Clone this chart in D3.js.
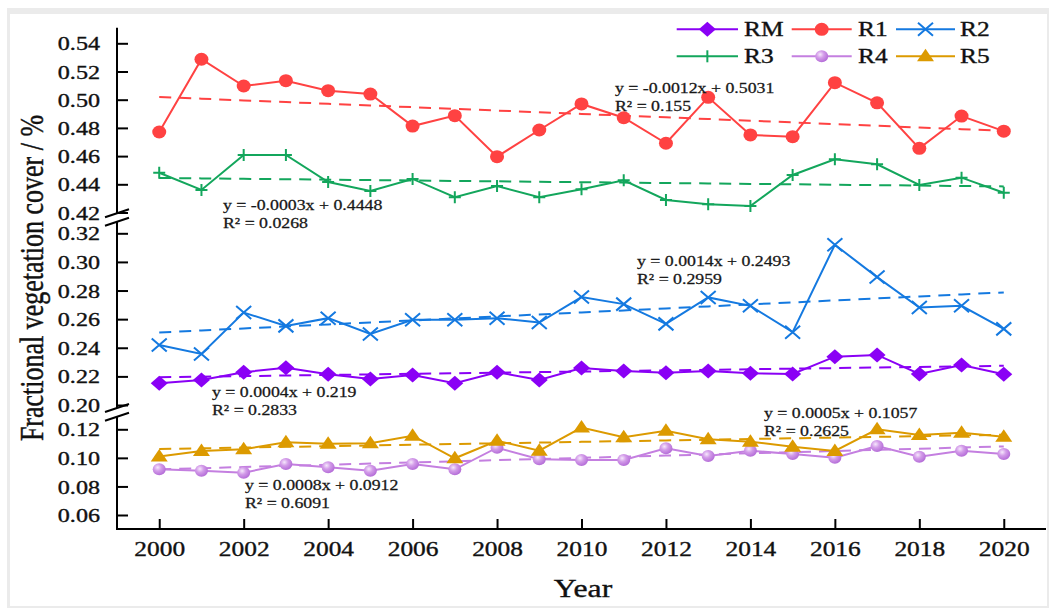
<!DOCTYPE html>
<html>
<head>
<meta charset="utf-8">
<script src="https://cdn.jsdelivr.net/npm/d3@7"></script>
<style>
  html, body { margin: 0; padding: 0; background: #fff; }
  svg { display: block; }
  svg text { stroke: currentColor; stroke-width: 0.35px; }
</style>
</head>
<body>
<svg id="chart" width="1051" height="608" style="color:#111"></svg>
<script>
// ---- data ----
const years = [2000, 2001, 2002, 2003, 2004, 2005, 2006, 2007, 2008, 2009, 2010,
               2011, 2012, 2013, 2014, 2015, 2016, 2017, 2018, 2019, 2020];
const seriesNames = ["RM", "R1", "R2", "R3", "R4", "R5"];

const valuesRM = [0.2152, 0.2175, 0.2229, 0.2261, 0.2215, 0.2182, 0.2210, 0.2152, 0.2229, 0.2175, 0.2259,
                  0.2238, 0.2226, 0.2238, 0.2222, 0.2217, 0.2338, 0.2350, 0.2217, 0.2280, 0.2215];
const valuesR1 = [0.4771, 0.5287, 0.5097, 0.5135, 0.5064, 0.5040, 0.4813, 0.4887, 0.4596, 0.4785, 0.4970,
                  0.4872, 0.4691, 0.5017, 0.4750, 0.4738, 0.5121, 0.4978, 0.4655, 0.4884, 0.4777];
const valuesR2 = [0.2420, 0.2357, 0.2646, 0.2553, 0.2607, 0.2497, 0.2595, 0.2595, 0.2607, 0.2576, 0.2754,
                  0.2705, 0.2567, 0.2752, 0.2693, 0.2509, 0.3120, 0.2894, 0.2681, 0.2693, 0.2532];
const valuesR3 = [0.4482, 0.4360, 0.4608, 0.4608, 0.4416, 0.4352, 0.4438, 0.4308, 0.4388, 0.4308, 0.4365,
                  0.4428, 0.4289, 0.4258, 0.4246, 0.4466, 0.4577, 0.4542, 0.4395, 0.4447, 0.4340];
const valuesR4 = [0.0920, 0.0910, 0.0896, 0.0957, 0.0934, 0.0910, 0.0957, 0.0920, 0.1071, 0.0990, 0.0985,
                  0.0985, 0.1067, 0.1013, 0.1050, 0.1027, 0.1001, 0.1083, 0.1008, 0.1050, 0.1027];
const valuesR5 = [0.1010, 0.1048, 0.1060, 0.1109, 0.1099, 0.1102, 0.1155, 0.0997, 0.1120, 0.1050, 0.1212,
                  0.1144, 0.1190, 0.1130, 0.1113, 0.1078, 0.1048, 0.1200, 0.1160, 0.1176, 0.1148];

// linear trends: y = slope * i + intercept, i = 1 for 2000
const trendSlopes     = [0.0004, -0.0012, 0.0014, -0.0003, 0.0008, 0.0005];
const trendIntercepts = [0.219, 0.5031, 0.2493, 0.4448, 0.0912, 0.1057];
const trendR2         = ["0.2833", "0.155", "0.2959", "0.0268", "0.6091", "0.2625"];

const yTicksTop    = [0.42, 0.44, 0.46, 0.48, 0.50, 0.52, 0.54];
const yTicksMiddle = [0.20, 0.22, 0.24, 0.26, 0.28, 0.30, 0.32];
const yTicksBottom = [0.06, 0.08, 0.10, 0.12];
const xTickYears   = [2000, 2002, 2004, 2006, 2008, 2010, 2012, 2014, 2016, 2018, 2020];

// ---- styling ----
const FONT = "'Liberation Serif', 'Times New Roman', serif";
const SX = 1.27;   // horizontal stretch of lettering
const colors = { RM: "#8a00f5", R1: "#ff4242", R2: "#1479e0", R3: "#13a65c", R4: "#c47fe0", R5: "#dc9a00" };
const seriesValues = { RM: valuesRM, R1: valuesR1, R2: valuesR2, R3: valuesR3, R4: valuesR4, R5: valuesR5 };

const svg = d3.select("#chart");

// page frame
svg.append("rect").attr("x", 7).attr("y", 8).attr("width", 1042).attr("height", 600).attr("fill", "#ebebeb");
svg.append("rect").attr("x", 10).attr("y", 14).attr("width", 1037).attr("height", 592).attr("fill", "#fff");

const defs = svg.append("defs");
const grad = defs.append("radialGradient").attr("id", "sphere").attr("cx", "38%").attr("cy", "35%").attr("r", "65%");
grad.append("stop").attr("offset", "0%").attr("stop-color", "#f6e8fc");
grad.append("stop").attr("offset", "45%").attr("stop-color", "#d39ce9");
grad.append("stop").attr("offset", "100%").attr("stop-color", "#b56ed8");

// ---- scales ----
const axisX = 117, axisBottomY = 529;
const x = d3.scaleLinear().domain([1999, 2021]).range([axisX, 1046]);

const yTop    = d3.scaleLinear().domain([0.42, 0.54]).range([212.5, 43.3]);
const yMiddle = d3.scaleLinear().domain([0.20, 0.32]).range([405, 233.3]);
const yBottom = d3.scaleLinear().domain([0.06, 0.12]).range([515, 429.3]);

const seriesScale = { RM: yMiddle, R1: yTop, R2: yMiddle, R3: yTop, R4: yBottom, R5: yBottom };

// ---- y axis: three segments with break marks ----
const segments = [
  { scale: yTop, ticks: yTicksTop, y0: 27.7, y1: 213.3 },
  { scale: yMiddle, ticks: yTicksMiddle, y0: 221.7, y1: 408 },
  { scale: yBottom, ticks: yTicksBottom, y0: 416.7, y1: axisBottomY }
];

segments.forEach(seg => {
  const g = svg.append("g").attr("transform", `translate(${axisX},0)`);
  g.call(d3.axisLeft(seg.scale).tickValues(seg.ticks).tickSize(-11).tickPadding(0)
    .tickFormat(d3.format(".2f")));
  g.select(".domain").remove();
  g.selectAll(".tick line").attr("stroke", "#000").attr("stroke-width", 2);
  g.selectAll(".tick text")
    .attr("x", 0).attr("dy", null).attr("y", 6.6)
    .attr("text-anchor", "end")
    .attr("transform", `translate(-17,0) scale(${SX},1)`)
    .attr("font-family", FONT).attr("font-size", 19).attr("fill", "#111");
  svg.append("line").attr("x1", axisX).attr("x2", axisX).attr("y1", seg.y0).attr("y2", seg.y1)
    .attr("stroke", "#000").attr("stroke-width", 2);
});

[213.3, 221.7, 408, 416.7].forEach(c => {
  svg.append("line").attr("x1", 105).attr("y1", c + 4).attr("x2", 129).attr("y2", c - 4)
    .attr("stroke", "#000").attr("stroke-width", 2);
});

// ---- x axis ----
const gx = svg.append("g").attr("transform", `translate(0,${axisBottomY})`);
gx.call(d3.axisBottom(x).tickValues(xTickYears).tickSize(-10).tickPadding(0).tickFormat(d3.format("d")));
gx.select(".domain").remove();
gx.selectAll(".tick line").attr("stroke", "#000").attr("stroke-width", 2);
gx.selectAll(".tick text")
  .attr("y", 27).attr("dy", null)
  .attr("text-anchor", "middle")
  .attr("transform", `scale(${SX},1)`)
  .attr("font-family", FONT).attr("font-size", 20).attr("fill", "#111");
svg.append("line").attr("x1", axisX - 1).attr("x2", 1046).attr("y1", axisBottomY).attr("y2", axisBottomY)
  .attr("stroke", "#000").attr("stroke-width", 2);

// axis titles
svg.append("text")
  .attr("transform", `translate(583,597) scale(${SX},1)`)
  .attr("text-anchor", "middle").attr("font-family", FONT).attr("font-size", 25).attr("fill", "#111")
  .text("Year");
svg.append("text")
  .attr("transform", `translate(43,278) rotate(-90) scale(1,${SX})`)
  .attr("text-anchor", "middle").attr("font-family", FONT).attr("font-size", 26).attr("fill", "#111")
  .text("Fractional vegetation cover / %");

// ---- markers ----
function drawMarker(g, name, cx, cy) {
  const c = colors[name];
  if (name === "RM") {
    g.append("path").attr("d", `M${cx},${cy - 7.5}L${cx + 8.5},${cy}L${cx},${cy + 7.5}L${cx - 8.5},${cy}Z`).attr("fill", c);
  } else if (name === "R1") {
    g.append("ellipse").attr("cx", cx).attr("cy", cy).attr("rx", 7).attr("ry", 6.5).attr("fill", c);
  } else if (name === "R2") {
    g.append("path").attr("d", `M${cx - 7.5},${cy - 6.5}L${cx + 7.5},${cy + 6.5}M${cx - 7.5},${cy + 6.5}L${cx + 7.5},${cy - 6.5}`)
      .attr("stroke", c).attr("stroke-width", 2).attr("fill", "none");
  } else if (name === "R3") {
    g.append("path").attr("d", `M${cx - 6},${cy}L${cx + 6},${cy}M${cx},${cy - 6}L${cx},${cy + 6}`)
      .attr("stroke", c).attr("stroke-width", 2).attr("fill", "none");
  } else if (name === "R4") {
    g.append("ellipse").attr("cx", cx).attr("cy", cy).attr("rx", 6.5).attr("ry", 6).attr("fill", "url(#sphere)");
  } else if (name === "R5") {
    g.append("path").attr("d", `M${cx},${cy - 7.5}L${cx + 8.5},${cy + 5}L${cx - 8.5},${cy + 5}Z`).attr("fill", c);
  }
}

// ---- trend lines ----
const trendLayer = svg.append("g");
seriesNames.forEach((name, k) => {
  const ys = seriesScale[name];
  const pts = years.map((yr, i) => [x(yr), ys(trendSlopes[k] * (i + 1) + trendIntercepts[k])]);
  trendLayer.append("path")
    .attr("d", d3.line()(pts))
    .attr("fill", "none").attr("stroke", colors[name]).attr("stroke-width", 2)
    .attr("stroke-dasharray", "12,8");
});

// ---- series lines and markers ----
const seriesLayer = svg.append("g");
seriesNames.forEach(name => {
  const ys = seriesScale[name];
  const vals = seriesValues[name];
  const line = d3.line().x((d, i) => x(years[i])).y(d => ys(d));
  seriesLayer.append("path").attr("d", line(vals))
    .attr("fill", "none").attr("stroke", colors[name]).attr("stroke-width", 2);
  const mg = seriesLayer.append("g");
  vals.forEach((v, i) => drawMarker(mg, name, x(years[i]), ys(v)));
});

// ---- equation labels ----
const eqPos = { RM: [212, 397], R1: [615, 93], R2: [637, 266], R3: [223, 210], R4: [245, 490], R5: [764, 418] };
seriesNames.forEach((name, k) => {
  const [ex, ey] = eqPos[name];
  const lines = [`y = ${trendSlopes[k]}x + ${trendIntercepts[k]}`, `R\u00B2 = ${trendR2[k]}`];
  lines.forEach((t, j) => {
    svg.append("text")
      .attr("transform", `translate(${ex},${ey + j * 17.5}) scale(${SX},1)`)
      .attr("font-family", FONT).attr("font-size", 14).attr("fill", "#1a1a1a")
      .style("stroke-width", "0.25px")
      .text(t);
  });
});

// ---- legend ----
const legendCols = [[676.7, 738, 744], [791.7, 851.7, 858], [896, 955, 960]];
const legendRows = [29.3, 56.3];
seriesNames.forEach((name, k) => {
  const [lx0, lx1, tx] = legendCols[k % 3];
  const ly = legendRows[Math.floor(k / 3)];
  const g = svg.append("g");
  g.append("line").attr("x1", lx0).attr("x2", lx1).attr("y1", ly).attr("y2", ly)
    .attr("stroke", colors[name]).attr("stroke-width", 2);
  const mx = (lx0 + lx1) / 2;
  if (name === "R3") {
    g.append("line").attr("x1", mx).attr("x2", mx).attr("y1", ly - 6).attr("y2", ly + 6)
      .attr("stroke", colors[name]).attr("stroke-width", 2);
  } else {
    drawMarker(g, name, mx, ly);
  }
  g.append("text")
    .attr("transform", `translate(${tx},${ly + 7}) scale(${SX},1)`)
    .attr("font-family", FONT).attr("font-size", 20).attr("fill", "#111")
    .text(name);
});
</script>
</body>
</html>
